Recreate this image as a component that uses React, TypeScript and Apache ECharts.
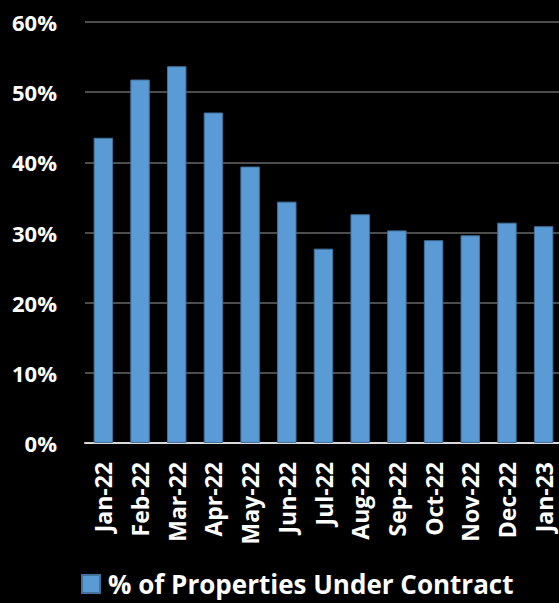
import React, { useEffect, useRef } from "react";
import * as echarts from "echarts";

const categories = ["Jan-22", "Feb-22", "Mar-22", "Apr-22", "May-22", "Jun-22", "Jul-22", "Aug-22", "Sep-22", "Oct-22", "Nov-22", "Dec-22", "Jan-23"];
const underContract = [43.5, 51.8, 53.7, 47.1, 39.4, 34.4, 27.7, 32.6, 30.3, 28.9, 29.6, 31.4, 30.9];
const seriesName = "% of Properties Under Contract";
const yMin = 0;
const yMax = 60;
const yInterval = 10;

const FONT = "'Open Sans', sans-serif";

export default function App() {
  const ref = useRef<HTMLDivElement>(null);
  useEffect(() => {
    document.body.style.margin = "0";
    document.body.style.overflow = "hidden";
    document.body.style.background = "#000";
    const chart = echarts.init(ref.current!, undefined, { renderer: "svg" });
    chart.setOption({
      animation: false,
      backgroundColor: "#000000",
      textStyle: { fontFamily: FONT },
      grid: { left: 85, top: 22, right: 0, bottom: 160, containLabel: false },
      legend: {
        data: [seriesName],
        left: 76,
        top: 566,
        itemWidth: 18,
        itemHeight: 18,
        icon: "rect",
        textStyle: { color: "#ffffff", fontSize: 26, lineHeight: 26, fontWeight: "bold", fontFamily: FONT, padding: [0, 0, 0, 3] },
      },
      xAxis: {
        type: "category",
        data: categories,
        axisLine: { show: true, lineStyle: { color: "#d9d9d9", width: 2 } },
        axisTick: { show: false },
        axisLabel: {
          rotate: 90,
          margin: 19,
          color: "#ffffff",
          fontSize: 23,
          fontWeight: "bold",
          fontFamily: FONT,
        },
      },
      yAxis: {
        type: "value",
        min: yMin,
        max: yMax,
        interval: yInterval,
        axisLine: { show: false },
        axisTick: { show: false },
        splitLine: { lineStyle: { color: "#4d4d4d", width: 2 } },
        axisLabel: {
          formatter: (v: number) => `${v}%`,
          margin: 28,
          color: "#ffffff",
          fontSize: 22,
          fontWeight: "bold",
          fontFamily: FONT,
        },
      },
      series: [
        {
          name: seriesName,
          type: "bar",
          data: underContract,
          barCategoryGap: "47%",
          itemStyle: { color: "#5b9bd5", borderColor: "#41719c", borderWidth: 1 },
        },
      ],
    });
    return () => chart.dispose();
  }, []);
  return (
    <div style={{ position: "fixed", left: 0, top: 0, width: 559, height: 603, overflow: "hidden", background: "#000" }}>
      <div ref={ref} style={{ width: 562, height: 603 }} />
    </div>
  );
}
